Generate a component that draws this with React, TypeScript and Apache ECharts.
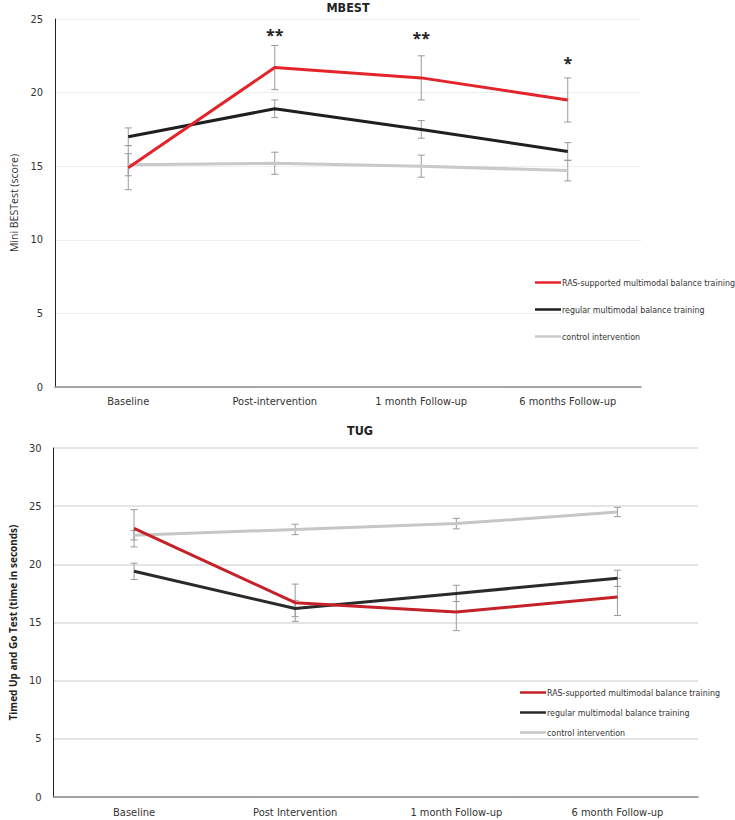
import React, { useEffect, useRef } from "react";
import * as echarts from "echarts";

const categoriesTop = ["Baseline", "Post-intervention", "1 month Follow-up", "6 months Follow-up"];
const categoriesBottom = ["Baseline", "Post Intervention", "1 month Follow-up", "6 month Follow-up"];
const seriesNames = [
  "RAS-supported multimodal balance training",
  "regular multimodal balance training",
  "control intervention",
];

// MBEST (score)
const mbestRAS = [14.9, 21.7, 21.0, 19.5];
const mbestRASErr = [1.5, 1.5, 1.5, 1.5];
const mbestRegular = [17.0, 18.9, 17.5, 16.0];
const mbestRegularErr = [0.6, 0.6, 0.6, 0.6];
const mbestControl = [15.1, 15.2, 15.0, 14.7];
const mbestControlErr = [0.75, 0.75, 0.75, 0.7];
const mbestStars = ["", "**", "**", "*"];
const mbestStarY = [0, 23.9, 23.7, 22.0];

// TUG (seconds)
const tugRAS = [23.1, 16.7, 15.9, 17.2];
const tugRASErr = [1.6, 1.6, 1.6, 1.6];
const tugRegular = [19.4, 16.2, 17.5, 18.8];
const tugRegularErr = [0.7, 0.7, 0.7, 0.7];
const tugControl = [22.5, 23.0, 23.5, 24.5];
const tugControlErr = [0.4, 0.45, 0.45, 0.4];

const topColors = ["#e3242b", "#1f1f1f", "#c9c9c9"];
const bottomColors = ["#c42128", "#2a2a2a", "#c6c6c6"];

const FONT = "'DejaVu Sans Condensed', 'Liberation Sans', sans-serif";

function errData(values: number[], errs: number[]) {
  return values.map((v, i) => [i, v - errs[i], v + errs[i]]);
}

function errorSeries(values: number[], errs: number[], axisIndex: number) {
  return {
    type: "custom",
    xAxisIndex: axisIndex,
    yAxisIndex: axisIndex,
    z: 1,
    silent: true,
    data: errData(values, errs),
    renderItem: (params: any, api: any) => {
      const x = api.value(0);
      const lo = api.coord([x, api.value(1)]);
      const hi = api.coord([x, api.value(2)]);
      const w = 3.5;
      const style = { stroke: "#9a9a9a", lineWidth: 1 };
      return {
        type: "group",
        children: [
          { type: "line", shape: { x1: lo[0], y1: lo[1], x2: hi[0], y2: hi[1] }, style },
          { type: "line", shape: { x1: lo[0] - w, y1: lo[1], x2: lo[0] + w, y2: lo[1] }, style },
          { type: "line", shape: { x1: hi[0] - w, y1: hi[1], x2: hi[0] + w, y2: hi[1] }, style },
        ],
      };
    },
  };
}

function lineSeries(name: string, values: number[], color: string, axisIndex: number) {
  return {
    type: "line",
    name,
    xAxisIndex: axisIndex,
    yAxisIndex: axisIndex,
    z: 3,
    data: values,
    symbol: "none",
    lineStyle: { width: 3, color },
    itemStyle: { color },
  };
}

export default function App() {
  const ref = useRef<HTMLDivElement>(null);
  useEffect(() => {
    if (!ref.current) return;
    const chart = echarts.init(ref.current, undefined, { renderer: "svg" });
    const starData = mbestStars
      .map((s, i) => ({ s, i }))
      .filter((d) => d.s !== "")
      .map((d) => [d.i, mbestStarY[d.i], d.s]);

    const option: any = {
      animation: false,
      backgroundColor: "#ffffff",
      title: [
        {
          text: "MBEST",
          left: 348,
          top: 1,
          padding: 0,
          textAlign: "center",
          textStyle: { fontFamily: FONT, fontSize: 12.5, fontWeight: "bold", color: "#222" },
        },
        {
          text: "TUG",
          left: 360,
          top: 424,
          padding: 0,
          textAlign: "center",
          textStyle: { fontFamily: FONT, fontSize: 12.5, fontWeight: "bold", color: "#222" },
        },
      ],
      legend: [
        {
          orient: "vertical",
          left: 535,
          top: 278,
          padding: 0,
          itemWidth: 26,
          itemHeight: 2.5,
          itemGap: 18,
          icon: "rect",
          selectedMode: false,
          textStyle: { fontFamily: FONT, fontSize: 8.8, color: "#333", padding: [0, 0, 0, -4] },
          data: seriesNames.map((n, i) => ({ name: n, itemStyle: { color: topColors[i] } })),
        },
        {
          orient: "vertical",
          left: 520,
          top: 688,
          padding: 0,
          itemWidth: 26,
          itemHeight: 2.5,
          itemGap: 11,
          icon: "rect",
          selectedMode: false,
          textStyle: { fontFamily: FONT, fontSize: 8.8, color: "#333", padding: [0, 0, 0, -4] },
          data: seriesNames.map((n, i) => ({ name: n, itemStyle: { color: bottomColors[i] } })),
        },
      ],
      grid: [
        { left: 41, top: 19, width: 600, height: 368 },
        { left: 41, top: 448, width: 657, height: 349 },
      ],
      xAxis: [
        {
          type: "category",
          gridIndex: 0,
          data: categoriesTop,
          axisLine: { lineStyle: { color: "#8c8c8c", width: 1.5 } },
          axisTick: { show: false },
          axisLabel: { fontFamily: FONT, fontSize: 11, color: "#333", margin: 9 },
        },
        {
          type: "category",
          gridIndex: 1,
          data: categoriesBottom,
          axisLine: { lineStyle: { color: "#8c8c8c", width: 1.5 } },
          axisTick: { show: false },
          axisLabel: { fontFamily: FONT, fontSize: 11, color: "#333", margin: 10 },
        },
      ],
      yAxis: [
        {
          type: "value",
          gridIndex: 0,
          min: 0,
          max: 25,
          interval: 5,
          name: "Mini BESTest (score)",
          nameLocation: "middle",
          nameGap: 36,
          nameTextStyle: { fontFamily: "'Open Sans', sans-serif", fontSize: 10.5, color: "#333" },
          axisLine: { show: true, lineStyle: { color: "#222", width: 1 } },
          axisTick: { show: false },
          axisLabel: { fontFamily: FONT, fontSize: 11, color: "#333", margin: 12 },
          splitLine: { lineStyle: { color: "#eeeeee", width: 1 } },
        },
        {
          type: "value",
          gridIndex: 1,
          min: 0,
          max: 30,
          interval: 5,
          name: "Timed Up and Go Test (time in seconds)",
          nameLocation: "middle",
          nameGap: 35,
          nameTextStyle: { fontFamily: "'Open Sans', sans-serif", fontSize: 10, fontWeight: "bold", color: "#222" },
          axisLine: { show: true, lineStyle: { color: "#222", width: 1 } },
          axisTick: { show: false },
          axisLabel: { fontFamily: FONT, fontSize: 11, color: "#333", margin: 12 },
          splitLine: { lineStyle: { color: "#dddddd", width: 1.5 } },
        },
      ],
      series: [
        errorSeries(mbestControl, mbestControlErr, 0),
        errorSeries(mbestRegular, mbestRegularErr, 0),
        errorSeries(mbestRAS, mbestRASErr, 0),
        lineSeries(seriesNames[2], mbestControl, topColors[2], 0),
        lineSeries(seriesNames[1], mbestRegular, topColors[1], 0),
        lineSeries(seriesNames[0], mbestRAS, topColors[0], 0),
        {
          type: "custom",
          xAxisIndex: 0,
          yAxisIndex: 0,
          z: 4,
          silent: true,
          data: starData,
          renderItem: (params: any, api: any) => {
            const p = api.coord([api.value(0), api.value(1)]);
            return {
              type: "text",
              x: p[0],
              y: p[1],
              style: {
                text: starData[params.dataIndex][2],
                fontFamily: "'Open Sans', sans-serif",
                fontSize: 16,
                fontWeight: "bold",
                fill: "#222",
                align: "center",
                verticalAlign: "middle",
              },
            };
          },
        },
        errorSeries(tugControl, tugControlErr, 1),
        errorSeries(tugRegular, tugRegularErr, 1),
        errorSeries(tugRAS, tugRASErr, 1),
        lineSeries(seriesNames[2], tugControl, bottomColors[2], 1),
        lineSeries(seriesNames[1], tugRegular, bottomColors[1], 1),
        lineSeries(seriesNames[0], tugRAS, bottomColors[0], 1),
      ],
    };
    chart.setOption(option);
    return () => chart.dispose();
  }, []);
  return (
    <div
      ref={ref}
      style={{ position: "absolute", left: 0, top: 0, width: 735, height: 820, background: "#fff" }}
    />
  );
}
